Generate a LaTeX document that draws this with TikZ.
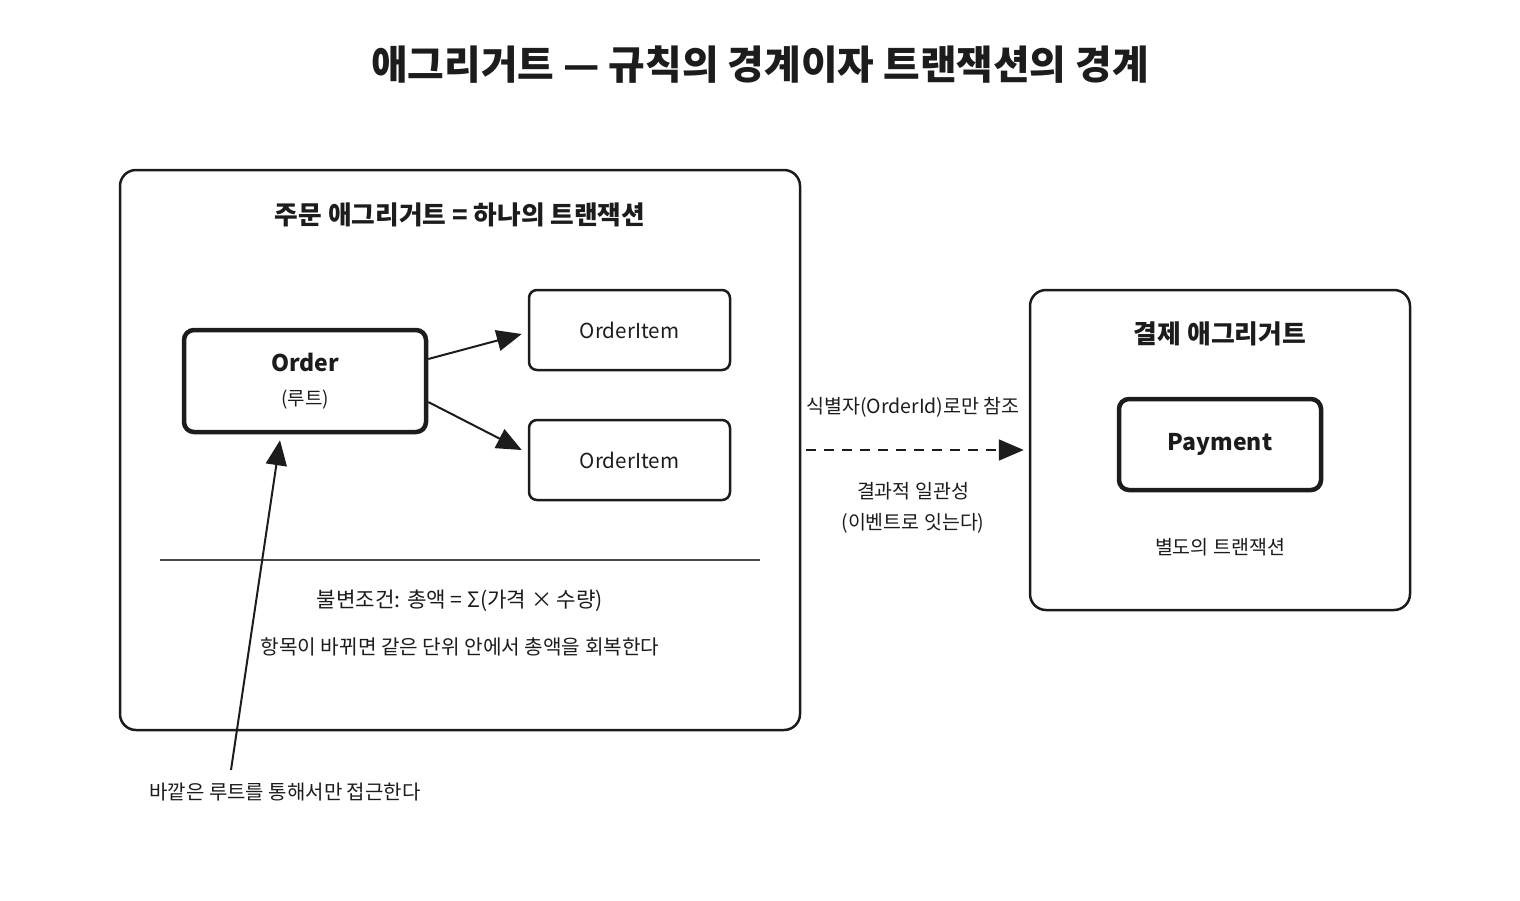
\documentclass[tikz,border=0pt]{standalone}
\usepackage{fontspec}
\setmainfont{Noto Sans CJK KR}
\usetikzlibrary{arrows.meta}
\usetikzlibrary{positioning}
\definecolor{ink}{HTML}{1C1C1C}
\definecolor{rulegray}{HTML}{4A4A4A}
\newcommand{\fs}[1]{\fontsize{#1}{#1}\selectfont}
\tikzset{aggbox/.style = {draw=ink, line width=2.5pt, rounded corners=16pt},
         rootbox/.style = {draw=ink, line width=4.5pt, rounded corners=10pt},
         itembox/.style = {draw=ink, line width=2.5pt, rounded corners=8pt},
         link/.style = {draw=ink, line width=2pt,
                        -{Triangle[length=25pt, width=21pt]}},
         caption/.style = {text=ink, align=center}}

\begin{document}
\begin{tikzpicture}[x=1pt, y=-1pt]
    \useasboundingbox (0, 0) rectangle (1520, 900);

    \node [caption, font=\fs{39.8}\bfseries] (title) at (760, 65)
      {애그리거트 — 규칙의 경계이자 트랜잭션의 경계};

    % order aggregate
    \node [aggbox, minimum width=680pt, minimum height=560pt] (orderAgg) at (460, 450) {};
    \node [caption, font=\fs{25.7}\bfseries] (orderAggTitle) at (460, 215)
      {주문 애그리거트 = 하나의 트랜잭션};
    \node [rootbox, caption, minimum width=242pt, minimum height=102pt] (order) at (305, 381)
      {{\fs{23}\bfseries Order}\\[17pt]{\fs{19}(루트)}};
    \node [itembox, caption, font=\fs{20.6}, minimum width=201pt, minimum height=80pt] (itemA) at (629.5, 330) {OrderItem};
    \node [itembox, caption, font=\fs{20.6}, minimum width=201pt, minimum height=80pt] (itemB) at (629.5, 460) {OrderItem};
    \draw [link] ([yshift=22pt]order.east) -- ([xshift=-6pt, yshift=-4pt]itemA.west);
    \draw [link] ([yshift=-21pt]order.east) -- ([xshift=-6pt, yshift=10pt]itemB.west);

    \draw [rulegray, line width=1.5pt] (160, 560) -- (760, 560);
    \node [caption, font=\fs{21.2}] (invariant) at (460, 601) {불변조건: 총액 = Σ(가격 × 수량)};
    \node [caption, font=\fs{20.2}] (recover) at (460, 647) {항목이 바뀌면 같은 단위 안에서 총액을 회복한다};

    \coordinate (accessFoot) at (231, 770);
    \draw [link] (accessFoot) -- ([xshift=-25pt, yshift=-6pt]order.south);
    \node [caption, font=\fs{20}] (access) at (285, 792) {바깥은 루트를 통해서만 접근한다};

    % payment aggregate
    \node [aggbox, minimum width=380pt, minimum height=320pt] (payAgg) at (1220, 450) {};
    \node [caption, font=\fs{25.8}\bfseries] (payAggTitle) at (1220, 334) {결제 애그리거트};
    \node [rootbox, caption, font=\fs{23}\bfseries, minimum width=202pt, minimum height=91pt] (payment) at (1220, 444.5) {Payment};
    \node [caption, font=\fs{19.5}] (payTx) at (1220, 547) {별도의 트랜잭션};

    \draw [link, dash pattern=on 10pt off 8pt, shorten <=5pt, shorten >=5pt] (orderAgg.east) -- (payAgg.west);
    \node [caption, font=\fs{19.5}] (byId) at (913, 407) {식별자(OrderId)로만 참조};
    \node [caption, font=\fs{19.5}] (eventual) at (913, 508)
      {결과적 일관성\\[12pt](이벤트로 잇는다)};
  \end{tikzpicture}
\end{document}
